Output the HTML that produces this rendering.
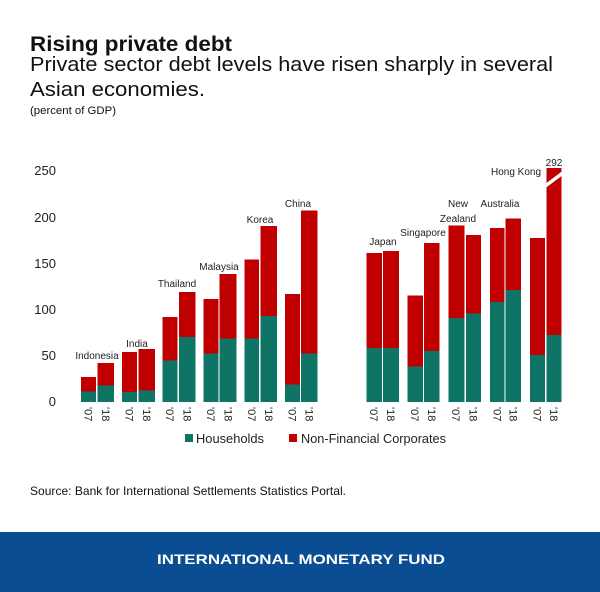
<!DOCTYPE html>
<html><head><meta charset="utf-8"><style>
html,body{margin:0;padding:0;background:#fff;}
svg{display:block;}
text{font-family:"Liberation Sans",sans-serif;}
</style></head><body>
<svg width="600" height="592" viewBox="0 0 600 592" xmlns="http://www.w3.org/2000/svg">
<rect width="600" height="592" fill="#fff"/>
<text x="30" y="51" font-size="21" font-weight="bold" fill="#111" textLength="202" lengthAdjust="spacingAndGlyphs">Rising private debt</text>
<text x="30" y="71" font-size="20" fill="#111" textLength="523" lengthAdjust="spacingAndGlyphs">Private sector debt levels have risen sharply in several</text>
<text x="30" y="96" font-size="20" fill="#111" textLength="175" lengthAdjust="spacingAndGlyphs">Asian economies.</text>
<text x="30" y="114" font-size="11" fill="#111" textLength="86" lengthAdjust="spacingAndGlyphs">(percent of GDP)</text>
<g font-size="13" fill="#222" text-anchor="end">
<text x="56" y="406">0</text><text x="56" y="360">50</text><text x="56" y="314">100</text><text x="56" y="268">150</text><text x="56" y="222">200</text><text x="56" y="175">250</text>
</g>
<g id="bars">
<!-- x, w, top, hh -->
<rect x="81" y="377" width="15" height="25" fill="#c00000"/><rect x="81" y="391.5" width="15" height="10.5" fill="#0e7566"/>
<rect x="97.5" y="363" width="16.5" height="39" fill="#c00000"/><rect x="97.5" y="385.5" width="16.5" height="16.5" fill="#0e7566"/>
<rect x="122" y="352" width="15" height="50" fill="#c00000"/><rect x="122" y="392" width="15" height="10" fill="#0e7566"/>
<rect x="138.5" y="349" width="16.5" height="53" fill="#c00000"/><rect x="138.5" y="390.5" width="16.5" height="11.5" fill="#0e7566"/>
<rect x="162.5" y="317" width="15" height="85" fill="#c00000"/><rect x="162.5" y="360.5" width="15" height="41.5" fill="#0e7566"/>
<rect x="179" y="292" width="16.5" height="110" fill="#c00000"/><rect x="179" y="337" width="16.5" height="65" fill="#0e7566"/>
<rect x="203.5" y="299" width="15" height="103" fill="#c00000"/><rect x="203.5" y="353.5" width="15" height="48.5" fill="#0e7566"/>
<rect x="219.5" y="274" width="17" height="128" fill="#c00000"/><rect x="219.5" y="338.5" width="17" height="63.5" fill="#0e7566"/>
<rect x="244.5" y="259.5" width="14.5" height="142.5" fill="#c00000"/><rect x="244.5" y="338.5" width="14.5" height="63.5" fill="#0e7566"/>
<rect x="260.5" y="226" width="16.5" height="176" fill="#c00000"/><rect x="260.5" y="316" width="16.5" height="86" fill="#0e7566"/>
<rect x="285" y="294" width="15" height="108" fill="#c00000"/><rect x="285" y="384.5" width="15" height="17.5" fill="#0e7566"/>
<rect x="301" y="210.5" width="16.5" height="191.5" fill="#c00000"/><rect x="301" y="353.5" width="16.5" height="48.5" fill="#0e7566"/>
<rect x="366.5" y="253" width="15.5" height="149" fill="#c00000"/><rect x="366.5" y="348" width="15.5" height="54" fill="#0e7566"/>
<rect x="383" y="251" width="16" height="151" fill="#c00000"/><rect x="383" y="348" width="16" height="54" fill="#0e7566"/>
<rect x="407.5" y="295.5" width="15.5" height="106.5" fill="#c00000"/><rect x="407.5" y="366.5" width="15.5" height="35.5" fill="#0e7566"/>
<rect x="424" y="243" width="15.5" height="159" fill="#c00000"/><rect x="424" y="351" width="15.5" height="51" fill="#0e7566"/>
<rect x="448.5" y="225.5" width="16" height="176.5" fill="#c00000"/><rect x="448.5" y="318" width="16" height="84" fill="#0e7566"/>
<rect x="466" y="235" width="15" height="167" fill="#c00000"/><rect x="466" y="313.5" width="15" height="88.5" fill="#0e7566"/>
<rect x="490" y="228" width="14.5" height="174" fill="#c00000"/><rect x="490" y="302" width="14.5" height="100" fill="#0e7566"/>
<rect x="505.5" y="218.5" width="15.5" height="183.5" fill="#c00000"/><rect x="505.5" y="290" width="15.5" height="112" fill="#0e7566"/>
<rect x="530" y="238" width="15" height="164" fill="#c00000"/><rect x="530" y="355" width="15" height="47" fill="#0e7566"/>
<rect x="546.5" y="168" width="15" height="234" fill="#c00000"/><rect x="546.5" y="335" width="15" height="67" fill="#0e7566"/>
<line x1="544" y1="187" x2="564" y2="172" stroke="#fff" stroke-width="3.5"/>
</g>
<g font-size="10" fill="#222" text-anchor="middle">
<text x="97" y="359">Indonesia</text><text x="137" y="347">India</text><text x="177" y="287">Thailand</text>
<text x="219" y="270">Malaysia</text><text x="260" y="223">Korea</text><text x="298" y="207">China</text>
<text x="383" y="245">Japan</text><text x="423" y="236">Singapore</text><text x="458" y="207">New</text><text x="458" y="222">Zealand</text>
<text x="500" y="207">Australia</text><text x="516" y="175">Hong Kong</text><text x="554" y="166">292</text>
</g>
<g font-size="11" fill="#222">
<g id="t"></g>
<text transform="translate(84.5,407) rotate(90)">'07</text><text transform="translate(102,407) rotate(90)">'18</text>
<text transform="translate(125.5,407) rotate(90)">'07</text><text transform="translate(143,407) rotate(90)">'18</text>
<text transform="translate(166,407) rotate(90)">'07</text><text transform="translate(183.5,407) rotate(90)">'18</text>
<text transform="translate(207,407) rotate(90)">'07</text><text transform="translate(224.5,407) rotate(90)">'18</text>
<text transform="translate(248,407) rotate(90)">'07</text><text transform="translate(265,407) rotate(90)">'18</text>
<text transform="translate(288.5,407) rotate(90)">'07</text><text transform="translate(305.5,407) rotate(90)">'18</text>
<text transform="translate(370,407) rotate(90)">'07</text><text transform="translate(387,407) rotate(90)">'18</text>
<text transform="translate(411,407) rotate(90)">'07</text><text transform="translate(428,407) rotate(90)">'18</text>
<text transform="translate(452,407) rotate(90)">'07</text><text transform="translate(469.5,407) rotate(90)">'18</text>
<text transform="translate(493.5,407) rotate(90)">'07</text><text transform="translate(509.5,407) rotate(90)">'18</text>
<text transform="translate(533.5,407) rotate(90)">'07</text><text transform="translate(550,407) rotate(90)">'18</text>
</g>
<rect x="185" y="434" width="8" height="8" fill="#0e7566"/>
<text x="196" y="443" font-size="12.5" fill="#222" textLength="68" lengthAdjust="spacingAndGlyphs">Households</text>
<rect x="289" y="434" width="8" height="8" fill="#c00000"/>
<text x="301" y="443" font-size="12.5" fill="#222" textLength="145" lengthAdjust="spacingAndGlyphs">Non-Financial Corporates</text>
<text x="30" y="495" font-size="12" fill="#111" textLength="316" lengthAdjust="spacingAndGlyphs">Source: Bank for International Settlements Statistics Portal.</text>
<rect x="0" y="532" width="600" height="60" fill="#0b4d92"/>
<text x="157" y="564" font-size="14" font-weight="bold" fill="#fff" textLength="288" lengthAdjust="spacingAndGlyphs">INTERNATIONAL MONETARY FUND</text>
</svg>
</body></html>
